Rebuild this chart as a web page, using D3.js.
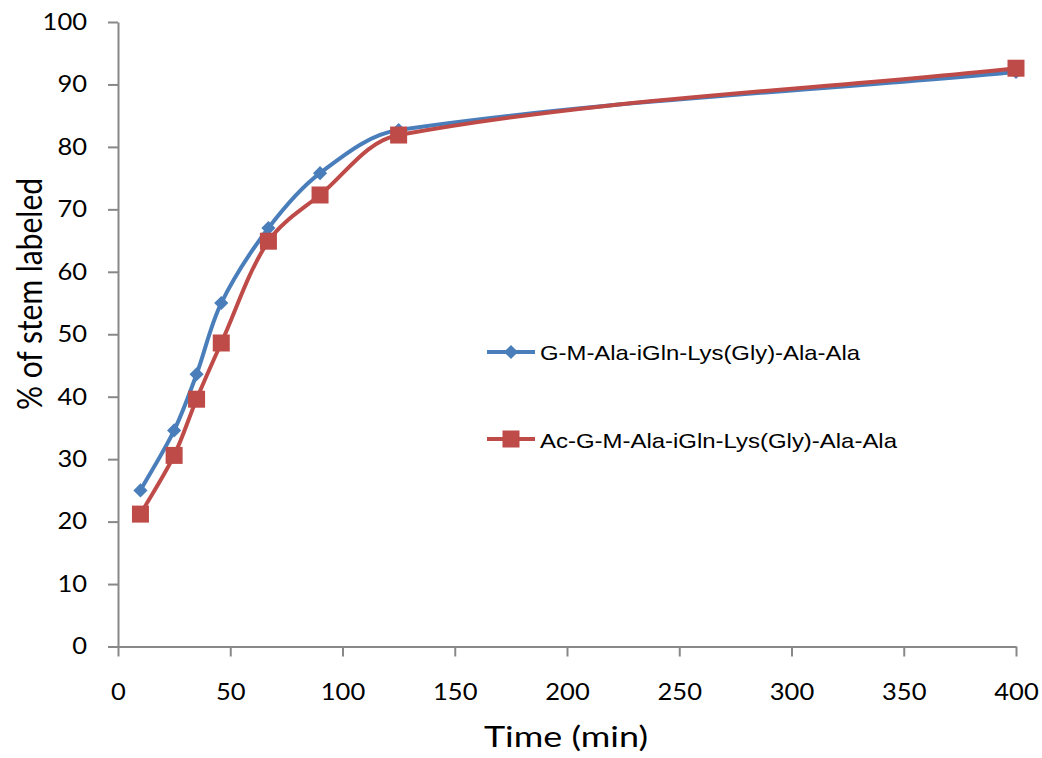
<!DOCTYPE html>
<html><head><meta charset="utf-8">
<script src="https://cdn.jsdelivr.net/npm/d3@7"></script>
<style>body{margin:0;background:#fff}</style>
</head><body>
<svg id="c" width="1042" height="758"></svg>
<script>
const timeMin = [10, 25, 35, 46, 67, 90, 125, 400];
const seriesA = [25.0, 34.6, 43.6, 55.0, 67.0, 75.8, 82.7, 92.0];
const seriesB = [21.2, 30.6, 39.6, 48.6, 64.9, 72.3, 81.9, 92.6];
const seriesNames = ["G-M-Ala-iGln-Lys(Gly)-Ala-Ala", "Ac-G-M-Ala-iGln-Lys(Gly)-Ala-Ala"];
const xTicks = [0, 50, 100, 150, 200, 250, 300, 350, 400];
const yTicks = [0, 10, 20, 30, 40, 50, 60, 70, 80, 90, 100];

const svg = d3.select("#c");
const x = d3.scaleLinear().domain([0, 400]).range([118, 1016]);
const y = d3.scaleLinear().domain([0, 100]).range([646.5, 22]);
const axisColor = "#888";
const tickFont = "Lato, 'Open Sans', sans-serif";

const xa = svg.append("g").attr("transform", "translate(0,646.5)")
  .call(d3.axisBottom(x).tickValues(xTicks).tickSize(10).tickSizeOuter(0).tickPadding(27));
const ya = svg.append("g").attr("transform", "translate(118,0)")
  .call(d3.axisLeft(y).tickValues(yTicks).tickSize(10).tickSizeOuter(0).tickPadding(21));
[xa, ya].forEach(g => {
  g.selectAll("path,line").attr("stroke", axisColor).attr("stroke-width", 2);
  g.selectAll("text").attr("font-family", tickFont).attr("font-size", 23).attr("fill", "#000")
    .attr("lengthAdjust", "spacingAndGlyphs")
    .attr("textLength", function () { return this.textContent.length * 14.8; });
});

svg.append("text").attr("x", 566).attr("y", 747).attr("text-anchor", "middle")
  .attr("font-family", tickFont).attr("font-size", 28)
  .attr("textLength", 164).attr("lengthAdjust", "spacingAndGlyphs").text("Time (min)");
svg.append("text").attr("transform", "translate(42,294) scale(1.2,1) rotate(-90)").attr("text-anchor", "middle")
  .attr("font-family", tickFont).attr("font-size", 29)
  .attr("textLength", 232).attr("lengthAdjust", "spacingAndGlyphs").text("% of stem labeled");

// Excel-like smoothing: tangent along neighbours, handle length from each segment's own chord
function SmoothCurve(context) { this._context = context; }
SmoothCurve.prototype = {
  areaStart() {}, areaEnd() {},
  lineStart() { this._pts = []; },
  point(px, py) { this._pts.push([+px, +py]); },
  lineEnd() {
    const p = this._pts, c = this._context, n = p.length;
    if (!n) return;
    c.moveTo(p[0][0], p[0][1]);
    const dirs = p.map((q, i) => {
      const a = p[Math.max(0, i - 1)], b = p[Math.min(n - 1, i + 1)];
      const dx = b[0] - a[0], dy = b[1] - a[1], L = Math.hypot(dx, dy) || 1;
      return [dx / L, dy / L];
    });
    for (let i = 0; i < n - 1; i++) {
      const a = p[i], b = p[i + 1];
      const L = Math.hypot(b[0] - a[0], b[1] - a[1]) / 3;
      c.bezierCurveTo(a[0] + dirs[i][0] * L, a[1] + dirs[i][1] * L,
                      b[0] - dirs[i + 1][0] * L, b[1] - dirs[i + 1][1] * L, b[0], b[1]);
    }
  }
};
const smooth = ctx => new SmoothCurve(ctx);

const line = d3.line().x(d => x(d[0])).y(d => y(d[1])).curve(smooth);
const colors = ["#4a7ebb", "#be4b48"];
const data = [seriesA, seriesB].map(s => timeMin.map((t, i) => [t, s[i]]));

data.forEach((pts, k) => {
  svg.append("path").datum(pts).attr("d", line).attr("fill", "none")
    .attr("stroke", colors[k]).attr("stroke-width", 4);
});
svg.append("g").selectAll("path").data(data[0]).join("path")
  .attr("transform", d => `translate(${x(d[0])},${y(d[1])}) rotate(45)`)
  .attr("d", "M-5,-5H5V5H-5Z").attr("fill", colors[0]);
svg.append("g").selectAll("rect").data(data[1]).join("rect")
  .attr("x", d => x(d[0]) - 8.5).attr("y", d => y(d[1]) - 8.5)
  .attr("width", 17).attr("height", 17).attr("fill", colors[1]);

// legend
const leg = [{y: 352, base: 360, w: 320}, {y: 439, base: 448, w: 357}];
leg.forEach((l, k) => {
  const g = svg.append("g");
  g.append("line").attr("x1", 487).attr("x2", 535).attr("y1", l.y).attr("y2", l.y)
    .attr("stroke", colors[k]).attr("stroke-width", 4);
  if (k === 0) g.append("path").attr("transform", `translate(511,${l.y}) rotate(45)`)
    .attr("d", "M-5,-5H5V5H-5Z").attr("fill", colors[0]);
  else g.append("rect").attr("x", 502.5).attr("y", l.y - 8.5).attr("width", 17).attr("height", 17).attr("fill", colors[1]);
  g.append("text").attr("x", 540).attr("y", l.base).attr("font-family", "'Liberation Sans', Arial, sans-serif")
    .attr("font-size", 21).attr("textLength", l.w).attr("lengthAdjust", "spacingAndGlyphs")
    .text(seriesNames[k]);
});
</script>
</body></html>
